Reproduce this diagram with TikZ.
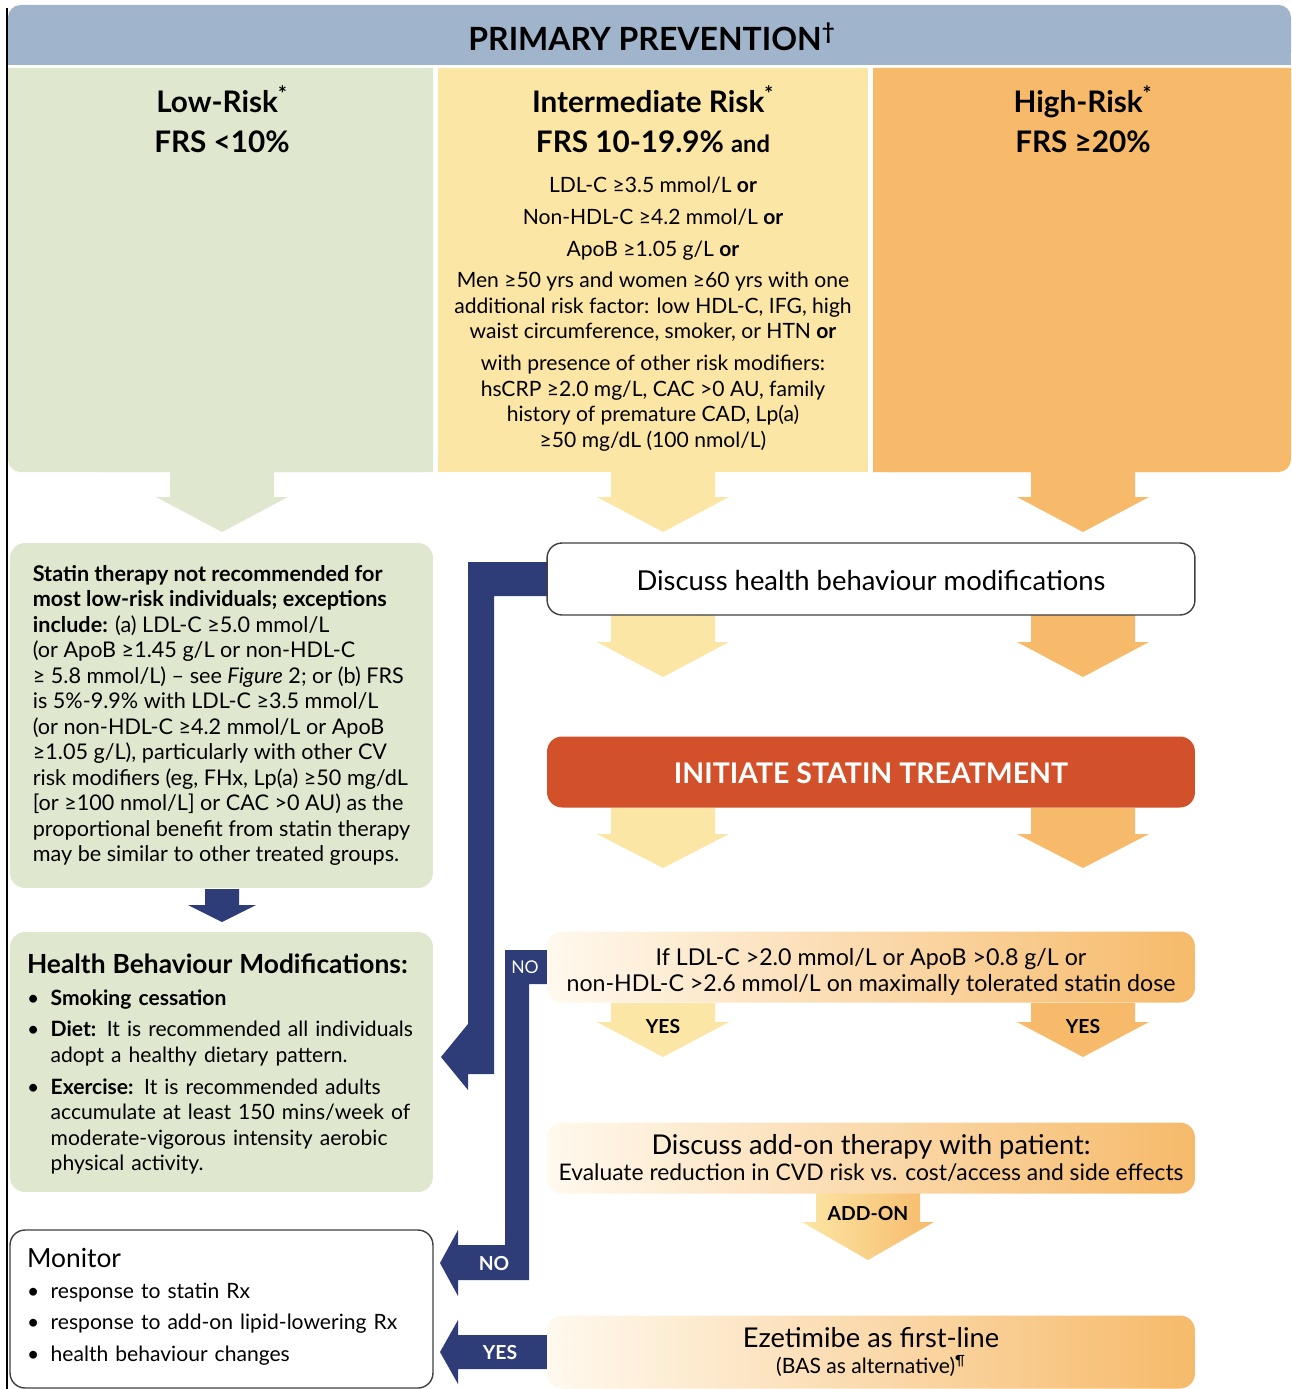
\documentclass[tikz,border=0pt]{standalone}
\usepackage{fontspec}
\setmainfont{Lato}
\usetikzlibrary{positioning,backgrounds}

\definecolor{hdrblue}{HTML}{A0B5CB}
\definecolor{lowgreen}{HTML}{DFE8CF}
\definecolor{midyellow}{HTML}{FCE6A5}
\definecolor{highorange}{HTML}{F6BA6A}
\definecolor{statinred}{HTML}{D3512A}
\definecolor{navy}{HTML}{2E3C77}
\definecolor{cream}{HTML}{FFF9EE}

\begin{document}
\begin{tikzpicture}[x=0.02cm, y=-0.02cm]
    \tikzset{every node/.style={inner sep=0pt, font=\fontsize{12}{14.5}\selectfont},
        greenbox/.style={fill=lowgreen, rounded corners=0.3cm, minimum width=8.46cm, align=left},
        whitebox/.style={draw=black!75, line width=0.8pt, fill=white, rounded corners=0.3cm},
        gradbox/.style={left color=cream, right color=highorange, rounded corners=0.3cm,
            minimum width=12.96cm, minimum height=1.42cm, align=center},
        coltitle/.style={align=center, font=\fontsize{16.9}{22.7}\selectfont\bfseries},
        navylabel/.style={text=white, font=\fontsize{11}{13}\selectfont\bfseries},
        yeslabel/.style={font=\fontsize{11}{13}\selectfont\bfseries}}

    \useasboundingbox (0,0) rectangle (1291,1389);
    \draw[line width=1.2pt] (7,8) -- (7,1389);

    % header and the three risk columns
    \fill[hdrblue, rounded corners=0.25cm] (8,5) rectangle (1291,65);
    \fill[hdrblue] (8,35) rectangle (1291,65);
    \node (hdr) at (652,37) {\fontsize{18.2}{21}\selectfont\bfseries PRIMARY PREVENTION\textsuperscript{†}};

    \fill[lowgreen, rounded corners=0.25cm] (8,68) rectangle (433,472);
    \fill[lowgreen] (8,68) rectangle (433,400) (100,68) rectangle (433,472);
    \fill[midyellow] (438,68) rectangle (868,472);
    \fill[highorange, rounded corners=0.25cm] (873,68) rectangle (1291,472);
    \fill[highorange] (873,68) rectangle (1291,400) (873,68) rectangle (1200,472);

    \node[coltitle] (lowt) at (222,119) {Low-Risk\textsuperscript{*}\\FRS <10\%};
    \node[coltitle] (midt) at (653,119) {Intermediate Risk\textsuperscript{*}\\FRS 10-19.9\% {\fontsize{13.5}{15}\selectfont and}};
    \node[coltitle] (hight) at (1083,119) {High-Risk\textsuperscript{*}\\FRS ≥20\%};
    \node[align=center] (midtext) at (653,314) {LDL-C ≥3.5 mmol/L \textbf{or}\\[3.6pt]
        Non-HDL-C ≥4.2 mmol/L \textbf{or}\\[3.6pt]
        ApoB ≥1.05 g/L \textbf{or}\\[3.6pt]
        Men ≥50 yrs and women ≥60 yrs with one\\
        additional risk factor: low HDL-C, IFG, high\\
        waist circumference, smoker, or HTN \textbf{or}\\[3.6pt]
        with presence of other risk modifiers:\\
        hsCRP ≥2.0 mg/L, CAC >0 AU, family\\
        history of premature CAD, Lp(a)\\
        ≥50 mg/dL (100 nmol/L)};

    % block arrows going down
    \foreach \cx/\col/\ytop/\yhead/\ytip in {222/lowgreen/472/497/532, 663/midyellow/472/497/532,
            1083/highorange/472/497/532, 663/midyellow/615/642/677, 1083/highorange/615/642/677,
            663/midyellow/808/834/868, 1083/highorange/808/834/868,
            663/midyellow/1003/1022/1057, 1083/highorange/1003/1022/1057}
        \fill[\col] (\cx-52,\ytop) -- (\cx-52,\yhead) -- (\cx-66,\yhead) -- (\cx,\ytip)
            -- (\cx+66,\yhead) -- (\cx+52,\yhead) -- (\cx+52,\ytop) -- cycle;
    \shade[left color=midyellow, right color=highorange] (816,1193) -- (816,1222) -- (802,1222)
        -- (868,1260) -- (934,1222) -- (920,1222) -- (920,1193) -- cycle;
    \fill[navy] (205,889) -- (205,905) -- (188,905) -- (222,922) -- (256,905) -- (239,905) -- (239,889) -- cycle;

    \node[yeslabel] (yes1) at (663,1027) {YES};
    \node[yeslabel] (yes2) at (1083,1027) {YES};
    \node[yeslabel] (addlbl) at (868,1213) {ADD-ON};

    % right-hand flow
    \node[whitebox, minimum width=12.96cm, minimum height=1.44cm, font=\fontsize{15.6}{18}\selectfont] (disc) at (871,579)
        {\rule{0pt}{13pt}Discuss health behaviour modifications};
    \node[fill=statinred, rounded corners=0.3cm, minimum width=12.96cm, minimum height=1.42cm, text=white,
        font=\fontsize{16.2}{19}\selectfont\bfseries] (init) at (871,772) {\rule{0pt}{13pt}INITIATE STATIN TREATMENT};
    \node[gradbox, font=\fontsize{13.2}{14.7}\selectfont] (ldl) at (871,967)
        {\rule{0pt}{15pt}If LDL-C >2.0 mmol/L or ApoB >0.8 g/L or\\non-HDL-C >2.6 mmol/L on maximally tolerated statin dose};
    \node[gradbox] (addon) at (871,1158)
        {{\fontsize{15.5}{18}\selectfont Discuss add-on therapy with patient:}\\
         {\fontsize{13}{14}\selectfont Evaluate reduction in CVD risk vs. cost/access and side effects}};
    \node[gradbox, minimum height=1.46cm] (ezet) at (871,1352)
        {{\fontsize{15.5}{18}\selectfont Ezetimibe as first-line}\\
         {\fontsize{12}{14}\selectfont (BAS as alternative)\textsuperscript{¶}}};

    % left-hand boxes
    \node[greenbox, minimum height=6.9cm, font=\fontsize{12.3}{14.5}\selectfont] (statin) at (221.5,715.5)
        {\textbf{Statin therapy not recommended for}\\
        \textbf{most low-risk individuals; exceptions}\\
        \textbf{include:} (a) LDL-C ≥5.0 mmol/L\\
        (or ApoB ≥1.45 g/L or non-HDL-C\\
        ≥ 5.8 mmol/L) – see \textit{Figure} 2; or (b) FRS\\
        is 5\%-9.9\% with LDL-C ≥3.5 mmol/L\\
        (or non-HDL-C ≥4.2 mmol/L or ApoB\\
        ≥1.05 g/L), particularly with other CV\\
        risk modifiers (eg, FHx, Lp(a) ≥50 mg/dL\\
        {[}or ≥100 nmol/L{]} or CAC >0 AU) as the\\
        proportional benefit from statin therapy\\
        may be similar to other treated groups.};
    \node[greenbox, minimum height=5.2cm, text width=7.78cm] (health) at (221.5,1062)
        {\rule{0pt}{15.8pt}{\fontsize{15}{18}\selectfont\bfseries Health Behaviour Modifications:}\\[6.7pt]%
        \begin{tabular}{@{\hspace{0pt}}c@{\hspace{6.5pt}}l@{}}
        • & \textbf{Smoking cessation}\\[3.6pt]
        • & \textbf{Diet:} It is recommended all individuals\\
          & adopt a healthy dietary pattern.\\[3.6pt]
        • & \textbf{Exercise:} It is recommended adults\\
          & accumulate at least 150 mins/week of\\
          & moderate-vigorous intensity aerobic\\
          & physical activity.
        \end{tabular}};
    \node[whitebox, minimum width=8.46cm, minimum height=3.16cm, text width=7.78cm, align=left] (monitor) at (221.5,1309)
        {{\fontsize{15}{18}\selectfont Monitor}\\[6pt]%
        \begin{tabular}{@{\hspace{0pt}}c@{\hspace{6.5pt}}l@{}}
        • & response to statin Rx\\[3.6pt]
        • & response to add-on lipid-lowering Rx\\[3.6pt]
        • & health behaviour changes
        \end{tabular}};

    % navy connectors, behind the boxes
    \begin{scope}[on background layer]
        \fill[navy] (disc.center |- 0,562) -- (468,562) -- (468,1024) -- (441,1057) -- (468,1090)
            -- (468,1074) -- (494,1074) -- (494,596) -- (disc.center |- 0,596) -- cycle;
        \fill[navy] (ldl.center |- 0,950) -- (505,950) -- (505,1245) -- (458,1245) -- (458,1230)
            -- (440,1263) -- (458,1296) -- (458,1280) -- (529,1280) -- (529,984) -- (ldl.center |- 0,984) -- cycle;
        \fill[navy] (ezet.center |- 0,1335) -- (458,1335) -- (458,1320) -- (440,1352) -- (458,1384)
            -- (458,1369) -- (ezet.center |- 0,1369) -- cycle;
    \end{scope}
    \node[navylabel, font=\fontsize{10}{12}\selectfont] (no1) at (525,967) {NO};
    \node[navylabel] (no2) at (494,1263) {NO};
    \node[navylabel] (yes3) at (500,1352) {YES};
\end{tikzpicture}
\end{document}
